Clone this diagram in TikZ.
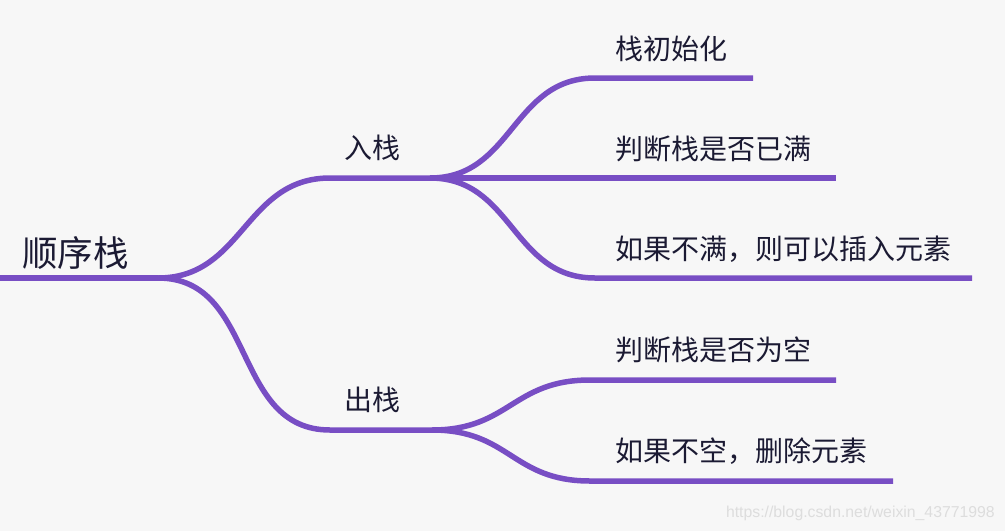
\documentclass[tikz,border=0pt]{standalone}
\usepackage{fontspec}
\usepackage{xcolor}
\usepackage{tikz}
\newfontfamily\cjk{Noto Sans CJK SC}
\newfontfamily\wmfont{Liberation Sans}
\definecolor{branchpurple}{HTML}{784EC4}
\definecolor{paper}{HTML}{F7F7F7}
\definecolor{inkdark}{HTML}{1B1A33}
\definecolor{wmgray}{HTML}{DDDDDD}

\begin{document}
\begin{tikzpicture}[x=1pt,y=-1pt,
    branch/.style={draw=branchpurple,line width=5.5pt},
    lbl/.style={anchor=west,inner sep=0pt,text=inkdark,font=\cjk\fontsize{28}{28}\selectfont},
    rootlbl/.style={lbl,font=\cjk\fontsize{35.5}{35.5}\selectfont}]
    \fill[paper] (0,0) rectangle (1005,531);
    \useasboundingbox (0,0) rectangle (1005,531);
    % texts
    \node[rootlbl] (root) at (22,253) {顺序栈};
    \node[lbl] (push) at (344,148) {入栈};
    \node[lbl] (pop) at (344,400) {出栈};
    \node[lbl] (init) at (615,49) {栈初始化};
    \node[lbl] (full) at (615,149) {判断栈是否已满};
    \node[lbl] (insert) at (615,249) {如果不满，则可以插入元素};
    \node[lbl] (empty) at (615,350) {判断栈是否为空};
    \node[lbl] (delete) at (615,451) {如果不空，删除元素};
    % line ends
    \coordinate (r0) at (0,278);
    \coordinate (r1) at (158,278);
    \coordinate (pushL) at (330,178);
    \coordinate (pushR) at (430,178);
    \coordinate (popL) at (330,430);
    \coordinate (popR) at (432,430);
    \coordinate (initL) at (595,78);
    \coordinate (initR) at (753,78);
    \coordinate (fullR) at (836,178);
    \coordinate (insertL) at (595,278);
    \coordinate (insertR) at (972,278);
    \coordinate (emptyL) at (590,380);
    \coordinate (emptyR) at (836,380);
    \coordinate (deleteL) at (590,481);
    \coordinate (deleteR) at (893,481);
    % branches
    \draw[branch] (r0) -- (r1);
    \draw[branch] (r1) to[out=0,in=180,looseness=1.1] (pushL) -- (pushR);
    \draw[branch] (r1) to[out=0,in=180,looseness=1.1] (popL) -- (popR);
    \draw[branch] (pushR) to[out=0,in=180,looseness=1.1] (initL) -- (initR);
    \draw[branch] (pushR) -- (fullR);
    \draw[branch] (pushR) to[out=0,in=180,looseness=1.1] (insertL) -- (insertR);
    \draw[branch] (popR) to[out=0,in=180,looseness=1.2] (emptyL) -- (emptyR);
    \draw[branch] (popR) to[out=0,in=180,looseness=1.2] (deleteL) -- (deleteR);
    \node[anchor=east,inner sep=0pt,text=wmgray,font=\wmfont\fontsize{15.8}{15.8}\selectfont] (wm) at (995,513) {https://blog.csdn.net/weixin\_43771998};
\end{tikzpicture}
\end{document}
